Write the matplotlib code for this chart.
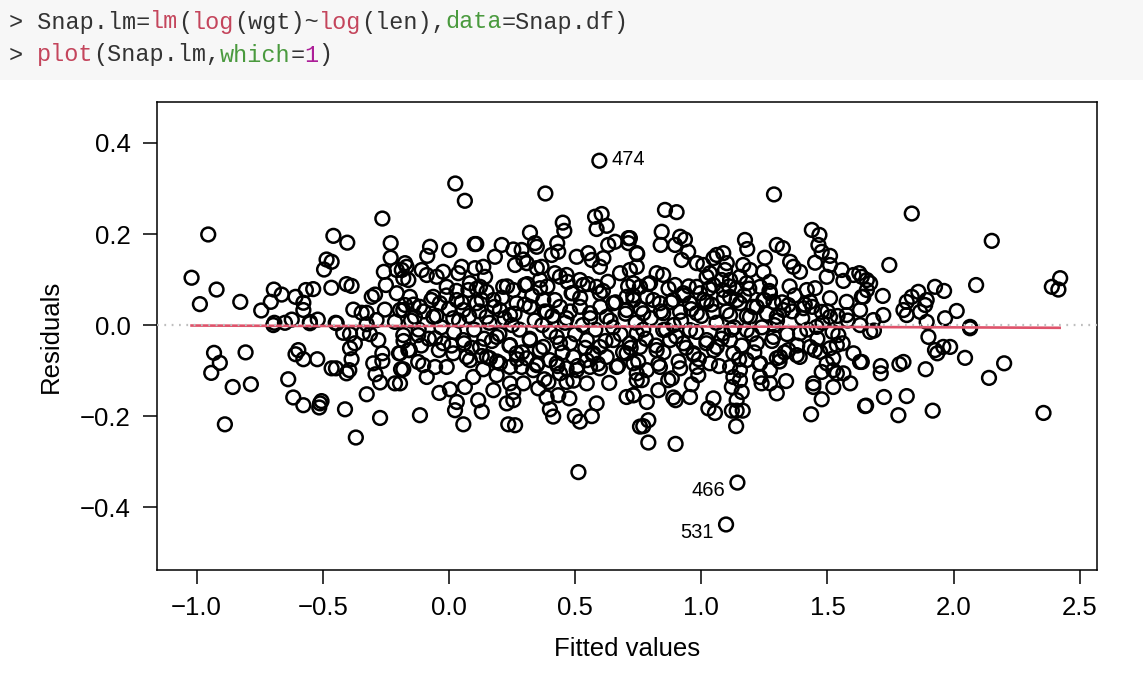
import numpy as np
import matplotlib.pyplot as plt
from matplotlib.patches import Rectangle

# residuals vs fitted (fitted, residual)
left_pts = [(-0.954, 0.199), (-1.020, 0.104), (-0.921, 0.078), (-0.987, 0.046), (-0.827, 0.051),
            (-0.744, 0.032), (-0.706, 0.051), (-0.694, 0.078), (-0.663, 0.067), (-0.692, 0.005),
            (-0.650, 0.005), (-0.623, 0.012), (-0.608, 0.062), (-0.577, 0.049), (-0.577, 0.033),
            (-0.567, 0.077), (-0.538, 0.079), (-0.551, 0.007), (-0.520, 0.012), (-0.495, 0.122),
            (-0.485, 0.144), (-0.465, 0.139), (-0.458, 0.196), (-0.403, 0.181), (-0.466, 0.082),
            (-0.406, 0.090), (-0.386, 0.086), (-0.449, 0.005), (-0.379, 0.034), (-0.346, 0.027),
            (-0.326, 0.027), (-0.306, 0.062), (-0.293, 0.067), (-0.287, 0.011), (-0.264, 0.234),
            (-0.231, 0.180), (-0.231, 0.148), (-0.258, 0.117), (-0.250, 0.088), (-0.254, 0.034),
            (-0.207, 0.121), (-0.174, 0.136), (-0.207, 0.070), (-0.174, 0.044), (-0.214, 0.007),
            (-0.181, 0.103), (-0.194, 0.033),
            (-0.931, -0.061), (-0.908, -0.083), (-0.942, -0.105), (-0.806, -0.060), (-0.857, -0.136),
            (-0.785, -0.130), (-0.888, -0.218), (-0.637, -0.119), (-0.597, -0.055), (-0.608, -0.064),
            (-0.577, -0.075), (-0.522, -0.075), (-0.617, -0.159), (-0.577, -0.176), (-0.511, -0.172),
            (-0.505, -0.167), (-0.514, -0.181), (-0.465, -0.095), (-0.448, -0.095), (-0.412, -0.185),
            (-0.406, -0.106), (-0.395, -0.099), (-0.386, -0.075), (-0.392, -0.051), (-0.373, -0.040),
            (-0.419, -0.017), (-0.392, -0.020), (-0.369, -0.247), (-0.326, -0.152), (-0.300, -0.084),
            (-0.291, -0.108), (-0.273, -0.126), (-0.264, -0.062), (-0.264, -0.079), (-0.280, -0.033),
            (-0.313, -0.020), (-0.340, -0.017), (-0.273, -0.204), (-0.214, -0.128), (-0.190, -0.097),
            (-0.198, -0.062), (-0.161, -0.055), (-0.696, 0.000), (-0.551, 0.004), (-0.445, 0.004),
            (-0.326, 0.002)]

mid_upper_pts = [(0.596, 0.361), (0.025, 0.311), (0.063, 0.273), (0.382, 0.289), (0.579, 0.238),
                 (0.605, 0.244), (0.585, 0.211), (0.625, 0.218), (0.451, 0.225), (0.457, 0.207),
                 (0.321, 0.203), (0.341, 0.180), (0.348, 0.172), (0.102, 0.178), (0.108, 0.178),
                 (-0.075, 0.172), (-0.086, 0.152), (0.001, 0.165), (0.209, 0.176), (0.255, 0.166),
                 (0.288, 0.165), (0.182, 0.150), (0.429, 0.180), (0.433, 0.161), (0.407, 0.154),
                 (0.506, 0.150), (0.552, 0.158), (0.566, 0.143), (0.612, 0.147), (0.598, 0.128),
                 (0.631, 0.176), (0.658, 0.183), (0.711, 0.191), (0.711, 0.180), (0.744, 0.158),
                 (0.262, 0.132), (0.295, 0.144), (0.308, 0.136), (0.348, 0.125), (0.367, 0.128),
                 (0.136, 0.128), (0.143, 0.106), (0.103, 0.125), (0.050, 0.128), (0.037, 0.114),
                 (-0.023, 0.117), (-0.168, 0.128), (-0.187, 0.121), (-0.108, 0.121), (-0.088, 0.110),
                 (-0.161, 0.099), (-0.049, 0.106), (-0.009, 0.084), (0.083, 0.092), (0.077, 0.077),
                 (0.149, 0.073), (0.215, 0.084), (0.255, 0.077), (0.301, 0.088), (0.361, 0.099),
                 (0.361, 0.081), (0.420, 0.114), (0.440, 0.106), (0.466, 0.110), (0.519, 0.099),
                 (0.532, 0.088), (0.486, 0.070), (0.585, 0.084), (0.598, 0.070), (0.678, 0.114),
                 (0.717, 0.121), (0.731, 0.092), (0.704, 0.062), (0.651, 0.048), (-0.155, 0.062),
                 (-0.115, 0.040), (-0.181, 0.033), (-0.135, 0.018), (-0.062, 0.062), (-0.036, 0.048),
                 (0.031, 0.055), (0.057, 0.033), (0.110, 0.048), (0.176, 0.055), (0.202, 0.033),
                 (0.268, 0.048), (0.242, 0.022), (0.321, 0.040), (0.374, 0.055), (0.387, 0.029),
                 (0.440, 0.040), (0.519, 0.040), (0.559, 0.026), (0.625, 0.018), (0.704, 0.033),
                 (-0.062, 0.018), (0.017, 0.015), (0.149, 0.018), (0.466, 0.015), (0.123, 0.084)]

mid_lower_pts = [(0.513, -0.323), (-0.115, -0.198), (0.057, -0.218), (0.235, -0.218), (0.262, -0.220),
                 (0.024, -0.187), (0.031, -0.169), (0.130, -0.190), (0.116, -0.165), (-0.038, -0.149),
                 (0.004, -0.141), (0.063, -0.136), (0.176, -0.143), (0.229, -0.172), (0.255, -0.165),
                 (0.242, -0.128), (0.255, -0.147), (0.295, -0.128), (0.354, -0.139), (0.387, -0.159),
                 (0.400, -0.185), (0.413, -0.201), (0.433, -0.154), (0.477, -0.161), (0.499, -0.200),
                 (0.519, -0.212), (0.566, -0.200), (0.585, -0.172), (0.635, -0.127), (0.546, -0.128),
                 (0.493, -0.122), (0.466, -0.125), (0.394, -0.125), (0.378, -0.119), (0.704, -0.158),
                 (0.731, -0.154), (0.757, -0.223), (0.096, -0.114), (0.136, -0.097), (0.189, -0.110),
                 (-0.088, -0.114), (-0.181, -0.097), (-0.194, -0.128), (-0.155, -0.055), (-0.122, -0.081),
                 (-0.102, -0.088), (-0.055, -0.092), (-0.009, -0.092), (-0.122, -0.022), (-0.055, -0.029),
                 (0.017, -0.062), (0.083, -0.077), (0.202, -0.084), (0.268, -0.062), (0.288, -0.092),
                 (0.334, -0.099), (0.400, -0.077), (0.440, -0.106), (0.493, -0.070), (0.546, -0.077),
                 (0.598, -0.095), (0.665, -0.092), (0.731, -0.084), (0.744, -0.121), (-0.023, -0.040),
                 (0.057, -0.033), (0.123, -0.048), (0.189, -0.026), (0.242, -0.044), (0.321, -0.033),
                 (0.374, -0.048), (0.427, -0.026), (0.480, -0.040), (0.546, -0.033), (0.598, -0.048),
                 (0.651, -0.033), (0.717, -0.040), (0.572, -0.062), (0.625, -0.070), (0.704, -0.062),
                 (-0.181, -0.022), (-0.194, -0.062), (0.130, -0.068), (0.162, -0.073), (0.242, -0.092),
                 (0.308, -0.073), (0.348, -0.088), (0.427, -0.084), (0.466, -0.095), (0.506, -0.099),
                 (0.559, -0.092)]

right_upper_pts = [(1.288, 0.287), (0.856, 0.253), (0.902, 0.248), (0.843, 0.205), (0.839, 0.176),
                   (0.916, 0.194), (0.935, 0.188), (0.896, 0.176), (0.948, 0.161), (0.922, 0.143),
                   (0.982, 0.136), (1.008, 0.132), (0.717, 0.191), (0.746, 0.156), (0.744, 0.128),
                   (1.173, 0.187), (1.182, 0.167), (1.299, 0.176), (1.323, 0.169), (1.252, 0.148),
                   (1.438, 0.209), (1.468, 0.198), (1.464, 0.176), (1.477, 0.161), (1.510, 0.152),
                   (1.451, 0.137), (1.510, 0.132), (1.497, 0.106), (1.556, 0.121), (1.563, 0.097),
                   (1.603, 0.110), (1.626, 0.114), (1.656, 0.099), (1.576, 0.051), (1.636, 0.062),
                   (1.629, 0.033), (1.510, 0.059), (1.451, 0.081), (1.418, 0.077), (1.431, 0.051),
                   (1.477, 0.029), (1.352, 0.139), (1.365, 0.128), (1.391, 0.117), (1.345, 0.044),
                   (1.325, 0.033), (1.246, 0.117), (1.272, 0.095), (1.272, 0.070), (1.233, 0.084),
                   (1.193, 0.121), (1.166, 0.132), (1.153, 0.106), (1.180, 0.092), (1.140, 0.081),
                   (1.114, 0.062), (1.153, 0.048), (1.206, 0.040), (1.246, 0.055), (1.114, 0.022),
                   (1.193, 0.018), (1.061, 0.154), (1.087, 0.158), (1.048, 0.147), (1.101, 0.136),
                   (1.094, 0.121), (1.034, 0.114), (1.021, 0.106), (1.081, 0.099), (1.048, 0.088),
                   (0.982, 0.084), (0.995, 0.070), (0.929, 0.070), (0.896, 0.088), (0.849, 0.110),
                   (0.823, 0.114), (0.797, 0.092), (0.757, 0.084), (0.784, 0.062), (0.731, 0.055),
                   (0.836, 0.048), (0.889, 0.055), (0.955, 0.048), (1.021, 0.051), (1.048, 0.029),
                   (0.982, 0.026), (0.916, 0.029), (0.849, 0.026), (0.770, 0.026), (1.286, 0.051),
                   (1.299, 0.018), (1.405, 0.037), (1.510, 0.018), (1.576, 0.022), (1.114, 0.099),
                   (1.087, 0.077)]

right_lower_pts = [(1.143, -0.346), (1.098, -0.438), (0.790, -0.258), (0.898, -0.261), (0.770, -0.222),
                   (0.790, -0.209), (1.138, -0.222), (1.140, -0.188), (1.121, -0.188), (1.164, -0.188),
                   (1.140, -0.165), (1.160, -0.147), (1.121, -0.136), (1.153, -0.121), (1.048, -0.161),
                   (1.028, -0.183), (1.054, -0.193), (0.955, -0.158), (0.962, -0.130), (0.988, -0.110),
                   (0.889, -0.159), (0.898, -0.165), (0.830, -0.143), (0.784, -0.169), (0.731, -0.154),
                   (0.869, -0.121), (0.883, -0.117), (0.764, -0.121), (0.744, -0.106), (0.784, -0.099),
                   (0.836, -0.092), (0.916, -0.095), (0.982, -0.092), (1.034, -0.084), (1.233, -0.114),
                   (1.239, -0.128), (1.272, -0.128), (1.299, -0.150), (1.336, -0.123), (1.272, -0.099),
                   (1.233, -0.084), (1.299, -0.073), (1.312, -0.070), (1.345, -0.055), (1.378, -0.066),
                   (1.391, -0.018), (1.431, -0.048), (1.471, -0.059), (1.510, -0.051), (1.543, -0.022),
                   (1.537, -0.044), (1.523, -0.073), (1.497, -0.084), (1.477, -0.103), (1.523, -0.099),
                   (1.537, -0.106), (1.563, -0.106), (1.603, -0.062), (1.629, -0.081), (1.590, -0.128),
                   (1.523, -0.136), (1.444, -0.128), (1.444, -0.136), (1.477, -0.163), (1.435, -0.196),
                   (1.649, -0.178), (1.286, -0.026), (1.220, -0.040), (1.180, -0.077), (1.127, -0.062),
                   (1.114, -0.033), (1.061, -0.048), (1.021, -0.033), (0.969, -0.062), (0.929, -0.040),
                   (0.876, -0.033), (0.823, -0.055), (0.757, -0.048), (0.744, -0.018), (0.849, -0.011),
                   (0.955, -0.011), (1.087, -0.018), (1.180, -0.011), (1.457, -0.004), (1.629, 0.000),
                   (1.669, -0.015), (1.127, -0.114), (1.114, -0.092), (1.153, -0.099)]

far_right_pts = [(1.834, 0.245), (2.151, 0.185), (1.745, 0.132), (2.089, 0.088), (2.422, 0.103),
                 (2.389, 0.084), (2.415, 0.078), (1.926, 0.084), (1.962, 0.075), (1.860, 0.073),
                 (1.834, 0.062), (1.814, 0.051), (1.801, 0.033), (1.814, 0.022), (1.893, 0.055),
                 (1.887, 0.044), (1.867, 0.029), (2.012, 0.031), (1.966, 0.015), (1.893, 0.007),
                 (1.719, 0.064), (1.721, 0.022), (1.669, 0.092), (1.656, 0.077), (1.642, 0.062),
                 (1.636, 0.106), (1.682, 0.011), (2.065, -0.004),
                 (1.684, -0.012), (1.900, -0.026), (1.926, -0.055), (1.935, -0.062), (1.959, -0.048),
                 (1.986, -0.048), (2.045, -0.072), (2.065, -0.007), (2.200, -0.084), (2.140, -0.116),
                 (2.356, -0.193), (1.889, -0.097), (1.917, -0.188), (1.814, -0.156), (1.724, -0.158),
                 (1.653, -0.177), (1.781, -0.198), (1.711, -0.090), (1.711, -0.106), (1.785, -0.086),
                 (1.801, -0.081), (1.636, -0.081)]

# crowded band around zero (approximate)
band_pts = [(-0.15, 0.01), (-0.12, -0.01), (-0.10, 0.03), (-0.08, -0.03), (-0.05, 0.02), (-0.03, -0.005),
            (0.00, 0.035), (0.02, -0.015), (0.04, 0.01), (0.06, -0.04), (0.08, 0.02), (0.10, -0.01),
            (0.12, 0.03), (0.14, -0.03), (0.16, 0.005), (0.18, 0.04), (0.20, -0.02), (0.22, 0.015),
            (0.24, -0.045), (0.26, 0.025), (0.28, -0.01), (0.30, 0.045), (0.32, -0.03), (0.34, 0.01),
            (0.36, -0.055), (0.38, 0.03), (0.40, -0.015), (0.42, 0.055), (0.44, -0.04), (0.46, 0.005),
            (0.48, 0.03), (0.50, -0.02), (0.52, 0.06), (0.54, -0.05), (0.56, 0.015), (0.58, -0.01),
            (0.60, 0.04), (0.62, -0.035), (0.64, 0.01), (0.66, 0.05), (0.68, -0.02), (0.70, 0.025),
            (0.72, -0.05), (0.74, 0.005), (0.76, 0.035), (0.78, -0.03), (0.80, 0.015), (0.82, -0.045),
            (0.84, 0.03), (0.86, -0.01), (0.88, 0.05), (0.90, -0.025), (0.92, 0.01), (0.94, -0.05),
            (0.96, 0.035), (0.98, -0.015), (1.00, 0.02), (1.02, -0.04), (1.04, 0.045), (1.06, 0.005),
            (1.08, -0.03), (1.10, 0.03), (1.12, -0.01), (1.14, 0.055), (1.16, -0.045), (1.18, 0.02),
            (1.20, -0.02), (1.22, 0.04), (1.24, -0.005), (1.26, 0.025), (1.28, -0.035), (1.30, 0.01),
            (1.32, 0.05), (1.34, -0.02), (1.36, 0.03), (1.38, -0.045), (1.40, 0.015), (1.42, -0.01),
            (1.44, 0.04), (1.46, -0.03), (1.48, 0.005), (1.50, 0.03), (1.52, -0.015), (1.54, 0.02),
            (1.56, -0.04), (1.58, 0.01),
            (0.01, -0.045), (0.05, 0.05), (0.09, -0.05), (0.13, 0.055), (0.17, -0.035), (0.21, 0.06),
            (0.25, 0.0), (0.29, -0.06), (0.33, 0.065), (0.37, 0.0), (0.41, 0.02), (0.45, -0.06),
            (0.49, 0.07), (0.53, 0.0), (0.57, -0.065), (0.61, 0.075), (0.65, -0.005), (0.69, -0.06),
            (0.73, 0.065), (0.77, -0.01), (0.81, 0.055), (0.85, -0.06), (0.89, 0.0), (0.93, 0.065),
            (0.97, -0.065), (1.01, 0.055), (1.05, -0.055), (1.09, 0.06), (1.13, -0.005), (1.17, 0.065),
            (1.21, -0.06), (1.25, 0.055), (1.29, 0.0), (1.33, -0.06), (1.37, 0.065), (1.41, 0.045),
            (1.45, -0.055),
            (-0.18, -0.035), (-0.14, 0.045), (-0.11, -0.045), (-0.07, 0.055), (-0.04, -0.055),
            (-0.01, 0.065), (0.03, 0.075), (0.07, -0.07), (0.11, 0.08), (0.15, -0.07), (0.19, -0.08),
            (0.23, 0.085), (0.27, -0.075), (0.31, 0.09), (0.35, -0.085), (0.39, 0.085), (0.43, -0.09),
            (0.47, 0.095), (0.51, -0.09), (0.55, 0.09), (0.59, -0.085), (0.63, 0.095), (0.67, -0.09),
            (0.71, 0.085), (0.75, -0.08), (0.79, 0.09), (0.83, -0.085), (0.87, 0.08), (0.91, -0.08),
            (0.95, 0.085), (0.99, -0.075), (1.03, 0.08), (1.07, -0.09), (1.11, 0.085), (1.15, -0.075),
            (1.19, 0.08), (1.23, -0.085), (1.27, 0.075), (1.31, -0.08), (1.35, 0.085), (1.39, -0.07)]

# lowess smoother
smooth_x = [-1.02, -0.5, 0.0, 0.5, 1.0, 1.5, 2.0, 2.42]
smooth_y = [-0.001, -0.002, -0.002, -0.003, -0.003, -0.004, -0.005, -0.006]

# labelled observations
lab_ids = ['474', '466', '531']
lab_x = [0.596, 1.143, 1.098]
lab_y = [0.361, -0.346, -0.438]

xticks = [-1.0, -0.5, 0.0, 0.5, 1.0, 1.5, 2.0, 2.5]
yticks = [-0.4, -0.2, 0.0, 0.2, 0.4]

# R console lines above the plot: (text, colour) pieces
code_lines = [
    [('> Snap.lm=', '#333333'), ('lm', '#C4455C'), ('(', '#333333'), ('log', '#C4455C'),
     ('(wgt)~', '#333333'), ('log', '#C4455C'), ('(len),', '#333333'), ('data', '#4A9A3E'),
     ('=Snap.df)', '#333333')],
    [('> ', '#333333'), ('plot', '#C4455C'), ('(Snap.lm,', '#333333'), ('which', '#4A9A3E'),
     ('=', '#333333'), ('1', '#AD1F98'), (')', '#333333')],
]

all_pts = np.array(left_pts + mid_upper_pts + mid_lower_pts + right_upper_pts
                   + right_lower_pts + far_right_pts + band_pts)
fitted = all_pts[:, 0]
resid = all_pts[:, 1]

W, H = 1143, 683
fig = plt.figure(figsize=(W / 100, H / 100), dpi=100)

# header box
fig.patches.append(Rectangle((0, 1 - 80 / H), 1, 80 / H, transform=fig.transFigure,
                             facecolor='#F7F7F7', edgecolor='none', zorder=0))
cw = 14.07
for row, (line, yc) in enumerate(zip(code_lines, [22, 55])):
    col = 0
    for txt, c in line:
        fig.text((9 + col * cw) / W, 1 - yc / H, txt, color=c, family='Liberation Mono',
                 fontsize=16.9, va='center', ha='left')
        col += len(txt)

ax = fig.add_axes([157 / W, 1 - 570 / H, (1097 - 157) / W, (570 - 102) / H])
ax.scatter(fitted, resid, s=98, facecolors='none', edgecolors='black', linewidths=1.8, zorder=2)
ax.plot(smooth_x, smooth_y, color='#DF536B', lw=1.9, zorder=3)
ax.axhline(0, color='#BEBEBE', lw=1.6, ls=(0, (0.8, 2.5)), zorder=4)

for t, x, y in zip(lab_ids, lab_x, lab_y):
    if x < 1.0:
        ax.annotate(t, (x, y), xytext=(9, 1), textcoords='offset points', ha='left', va='center',
                    fontsize=14.5, family='Liberation Sans')
    else:
        ax.annotate(t, (x, y), xytext=(-9, -6), textcoords='offset points', ha='right', va='center',
                    fontsize=14.5, family='Liberation Sans')

ax.set_xlim(-1.157, 2.568)
ax.set_ylim(-0.538, 0.490)
ax.set_xticks(xticks)
ax.set_xticklabels(['%.1f' % v if v >= 0 else '\u2212%.1f' % -v for v in xticks])
ax.set_yticks(yticks)
ax.set_yticklabels(['%.1f' % v if v >= 0 else '\u2212%.1f' % -v for v in yticks])
for lab in ax.get_xticklabels() + ax.get_yticklabels():
    lab.set_family('Liberation Sans')
    lab.set_fontsize(18.5)
ax.tick_params(direction='out', length=10, width=1.1, pad=9, color='black')
for sp in ax.spines.values():
    sp.set_linewidth(1.1)

ax.set_xlabel('Fitted values', family='Liberation Sans', fontsize=18.5, labelpad=12)
ax.set_ylabel('Residuals', family='Liberation Sans', fontsize=18.5, labelpad=12)

fig.savefig('out.png', dpi=100)
